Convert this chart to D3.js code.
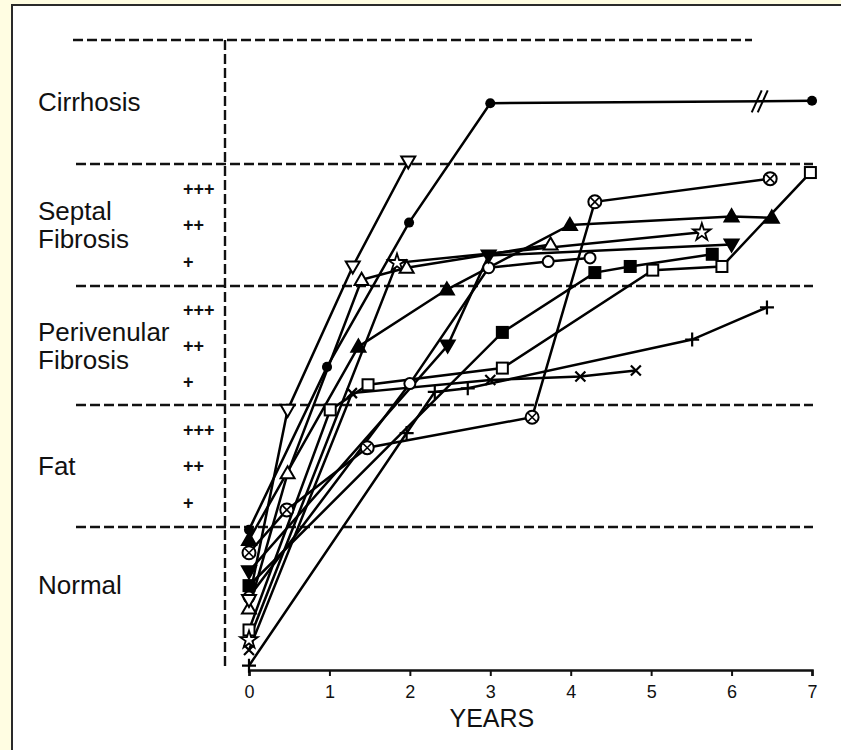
<!DOCTYPE html>
<html>
<head>
<meta charset="utf-8">
<script src="https://cdn.jsdelivr.net/npm/d3@7"></script>
<style>
  body { margin: 0; background: #fffde2; }
  text { font-family: 'Liberation Sans', Arial, sans-serif; fill: #111; }
</style>
</head>
<body>
<div id="chart"></div>
<script>
// histology bands, bottom to top
var bandNames = ['Normal', 'Fat', 'Perivenular|Fibrosis', 'Septal|Fibrosis', 'Cirrhosis']
var gradeLabels = ['+', '++', '+++']
var gradeOffsets = [0.2, 0.5, 0.8]
var gradedBands = [1, 2, 3]
var yearTicks = [0, 1, 2, 3, 4, 5, 6, 7]

// [years, grade] for each patient
var pDot = [[0, 0.98], [0.97, 2.32], [1.99, 3.52], [3.0, 4.49], [7.0, 4.51]]
var pTriDownOpen = [[0, 0.49], [0.48, 1.96], [1.29, 3.16], [1.98, 4.02]]
var pTriUpOpen = [[0, 0.43], [0.48, 1.44], [1.40, 3.05], [1.96, 3.15], [3.75, 3.34]]
var pStar = [[0, 0.21], [1.84, 3.19], [5.63, 3.44]]
var pTriUp = [[0, 0.91], [1.36, 2.49], [2.46, 2.97], [3.99, 3.50], [6.0, 3.57], [6.5, 3.56]]
var pCircleX = [[0, 0.82], [0.47, 1.14], [1.47, 1.65], [3.52, 1.90], [4.30, 3.69], [6.48, 3.88]]
var pTriDown = [[0, 0.69], [2.47, 2.50], [2.98, 3.25], [6.0, 3.34]]
var pCircleOpen = [[0, 0.51], [2.0, 2.18], [2.98, 3.15], [3.72, 3.20], [4.24, 3.23]]
var pSquare = [[0, 0.59], [3.15, 2.61], [4.30, 3.11], [4.74, 3.16], [5.76, 3.26]]
var pSquareOpen = [[0, 0.28], [1.01, 1.96], [1.48, 2.17], [3.15, 2.31], [5.02, 3.13], [5.88, 3.16], [6.98, 3.93]]
var pPlus = [[0, 0.03], [1.96, 1.77], [2.31, 2.11], [2.72, 2.14], [5.51, 2.55], [6.44, 2.82]]
var pCross = [[0, 0.14], [1.28, 2.10], [3.0, 2.21], [4.12, 2.24], [4.81, 2.29]]

var patients = [
  { pts: pPlus, mark: 'plus' },
  { pts: pCross, mark: 'cross' },
  { pts: pSquareOpen, mark: 'squareOpen' },
  { pts: pSquare, mark: 'square' },
  { pts: pCircleOpen, mark: 'circleOpen' },
  { pts: pTriDown, mark: 'triDown' },
  { pts: pCircleX, mark: 'circleX' },
  { pts: pTriUp, mark: 'triUp' },
  { pts: pStar, mark: 'star' },
  { pts: pTriUpOpen, mark: 'triUpOpen' },
  { pts: pTriDownOpen, mark: 'triDownOpen' },
  { pts: pDot, mark: 'dot' }
]

var width = 841
var height = 750

var svg = d3.select('#chart')
  .append('svg')
  .attr('width', width)
  .attr('height', height)

// white panel
svg.append('rect')
  .attr('x', 12).attr('y', 5)
  .attr('width', 860).attr('height', 780)
  .attr('fill', '#fff')
  .attr('stroke', '#2a2a2a')
  .attr('stroke-width', 2)

var x = d3.scaleLinear().domain([0, 7]).range([249, 812])
var y = d3.scaleLinear().domain([0, 1, 2, 3, 4, 5]).range([670, 527, 405, 286, 164, 40])

// band boundaries
svg.append('g').selectAll('line')
  .data([1, 2, 3, 4, 5])
  .enter()
  .append('line')
  .attr('x1', function (d) { return d === 5 ? 73 : 76 })
  .attr('x2', function (d) { return d === 5 ? 752 : 813 })
  .attr('y1', function (d) { return y(d) })
  .attr('y2', function (d) { return y(d) })
  .attr('stroke', '#111')
  .attr('stroke-width', 2.6)
  .attr('stroke-dasharray', '10,4')

// vertical dashed axis
svg.append('line')
  .attr('x1', 225).attr('x2', 225)
  .attr('y1', y(5)).attr('y2', y(0))
  .attr('stroke', '#111')
  .attr('stroke-width', 2.4)
  .attr('stroke-dasharray', '10,4')

// band names
bandNames.forEach(function (name, i) {
  var lines = name.split('|')
  var cy = i === 0 ? y(0.6) : y(i + 0.5)
  var t = svg.append('text')
    .attr('x', 38)
    .attr('y', cy - (lines.length - 1) * 14)
    .style('font-size', '26px')
  lines.forEach(function (l, j) {
    t.append('tspan')
      .attr('x', 38)
      .attr('dy', j === 0 ? '0.36em' : '28px')
      .text(l)
  })
})

// grade ticks
gradedBands.forEach(function (b) {
  gradeLabels.forEach(function (g, j) {
    svg.append('text')
      .attr('x', 183)
      .attr('y', y(b + gradeOffsets[j]))
      .attr('dy', '0.36em')
      .style('font-size', '18px')
      .style('font-weight', 'bold')
      .text(g)
  })
})

// x axis
var xAxis = svg.append('g')
  .attr('transform', 'translate(0,' + y(0) + ')')
  .call(d3.axisBottom(x).tickValues(yearTicks).tickFormat(d3.format('d')).tickSize(6).tickPadding(9))
xAxis.select('.domain').attr('stroke', '#111').attr('stroke-width', 2.5)
xAxis.selectAll('.tick line').attr('stroke', '#111').attr('stroke-width', 2)
xAxis.selectAll('.tick text')
  .style('font-family', "'Liberation Sans', Arial, sans-serif")
  .style('font-size', '18px')
  .attr('fill', '#111')

svg.append('text')
  .attr('x', x(3.02))
  .attr('y', 727)
  .attr('text-anchor', 'middle')
  .style('font-size', '25px')
  .text('YEARS')

// patient lines
var line = d3.line()
  .x(function (d) { return x(d[0]) })
  .y(function (d) { return y(d[1]) })

svg.append('g').selectAll('path')
  .data(patients)
  .enter()
  .append('path')
  .attr('d', function (d) { return line(d.pts) })
  .attr('fill', 'none')
  .attr('stroke', '#000')
  .attr('stroke-width', 2.5)

// break marks on the cirrhosis line
var bx = x(6.35)
var by = y(4.505)
svg.append('g').selectAll('line')
  .data([-3, 3])
  .enter()
  .append('line')
  .attr('x1', function (d) { return bx + d - 5 })
  .attr('x2', function (d) { return bx + d + 5 })
  .attr('y1', by + 11)
  .attr('y2', by - 11)
  .attr('stroke', '#000')
  .attr('stroke-width', 2)

// markers
function drawMark (g, kind) {
  var sym = d3.symbol()
  if (kind === 'dot') {
    g.append('path').attr('d', sym.type(d3.symbolCircle).size(80)()).attr('fill', '#000')
  } else if (kind === 'circleOpen') {
    g.append('circle').attr('r', 5.5).attr('fill', '#fff').attr('stroke', '#000').attr('stroke-width', 2)
  } else if (kind === 'triUp' || kind === 'triUpOpen') {
    g.append('path').attr('d', sym.type(d3.symbolTriangle).size(85)())
      .attr('transform', 'translate(0,1)')
      .attr('fill', kind === 'triUp' ? '#000' : '#fff').attr('stroke', '#000').attr('stroke-width', 2)
  } else if (kind === 'triDown' || kind === 'triDownOpen') {
    g.append('path').attr('d', sym.type(d3.symbolTriangle).size(85)())
      .attr('transform', 'translate(0,-1) rotate(180)')
      .attr('fill', kind === 'triDown' ? '#000' : '#fff').attr('stroke', '#000').attr('stroke-width', 2)
  } else if (kind === 'square' || kind === 'squareOpen') {
    g.append('rect').attr('x', -5.5).attr('y', -5.5).attr('width', 11).attr('height', 11)
      .attr('fill', kind === 'square' ? '#000' : '#fff').attr('stroke', '#000').attr('stroke-width', 2)
  } else if (kind === 'star') {
    g.append('path').attr('d', sym.type(d3.symbolStar).size(95)())
      .attr('fill', '#fff').attr('stroke', '#000').attr('stroke-width', 1.8)
  } else if (kind === 'circleX') {
    g.append('circle').attr('r', 6.5).attr('fill', '#fff').attr('stroke', '#000').attr('stroke-width', 2)
    g.append('path').attr('d', 'M-4,-4L4,4M-4,4L4,-4').attr('stroke', '#000').attr('stroke-width', 1.6)
  } else if (kind === 'plus') {
    g.append('path').attr('d', 'M-7,0H7M0,-7V7').attr('stroke', '#000').attr('stroke-width', 2.2)
  } else if (kind === 'cross') {
    g.append('path').attr('d', 'M-5,-5L5,5M-5,5L5,-5').attr('stroke', '#000').attr('stroke-width', 2.2)
  }
}

patients.forEach(function (p) {
  svg.append('g').selectAll('g')
    .data(p.pts)
    .enter()
    .append('g')
    .attr('transform', function (d) { return 'translate(' + x(d[0]) + ',' + y(d[1]) + ')' })
    .each(function () { drawMark(d3.select(this), p.mark) })
})
</script>
</body>
</html>
